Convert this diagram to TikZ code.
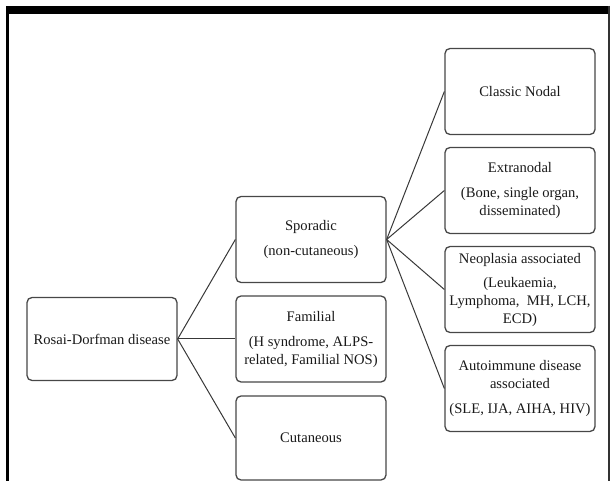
\documentclass[tikz,border=0pt]{standalone}
\usepackage{fontspec}
\setmainfont{Liberation Serif}
\begin{document}
\begin{tikzpicture}[x=1pt,y=-1pt,
  box/.style={draw=black!72, line width=1.3pt, rounded corners=5pt,
    minimum width=150pt, minimum height=86pt, inner sep=0pt, align=center,
    font=\fontsize{14.6pt}{18pt}\selectfont, text=black!90},
  link/.style={draw=black!78, line width=1pt}]
\useasboundingbox (0,0) rectangle (611,481);
% frame
\fill[black] (6,6) rectangle (610,14.5);
\fill[black] (6,6) rectangle (8.5,481);
\draw[black!80, line width=1.5pt] (609,6) -- (609,481);
% nodes
\node[box, minimum height=83pt] (rd) at (102,339) {Rosai-Dorfman disease};
\node[box] (spo) at (311,239.5) {Sporadic\\[7pt](non-cutaneous)};
\node[box] (fam) at (311,339) {Familial\\[7pt](H syndrome, ALPS-\\related, Familial NOS)};
\node[box, minimum height=84pt] (cut) at (311,438) {Cutaneous};
\node[box] (cla) at (520,91.5) {Classic Nodal};
\node[box] (ext) at (520,190.5) {Extranodal\\[7pt](Bone, single organ,\\disseminated)};
\node[box] (neo) at (520,289.5) {Neoplasia associated\\[6pt](Leukaemia,\\Lymphoma,\ \ MH, LCH,\\ECD)};
\node[box] (aut) at (520,388.5) {Autoimmune disease\\associated\\[7pt](SLE, IJA, AIHA, HIV)};
% connectors
\draw[link] (rd.east) -- (spo.west);
\draw[link] (rd.east) -- (fam.west);
\draw[link] (rd.east) -- (cut.west);
\draw[link] (spo.east) -- (cla.west);
\draw[link] (spo.east) -- (ext.west);
\draw[link] (spo.east) -- (neo.west);
\draw[link] (spo.east) -- (aut.west);
\end{tikzpicture}
\end{document}
